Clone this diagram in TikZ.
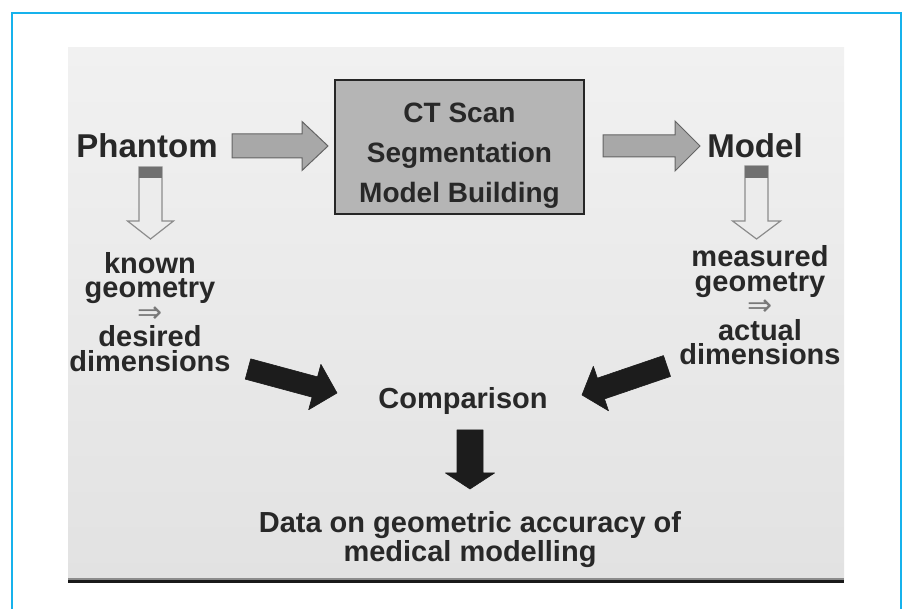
\documentclass[tikz,border=0pt]{standalone}
\usepackage{fontspec}
\setmainfont{Liberation Sans}
\newfontfamily\symfnt{DejaVu Sans}
\usetikzlibrary{calc}
\definecolor{frameblue}{RGB}{22,178,236}
\definecolor{paneltop}{RGB}{241,241,241}
\definecolor{panelbot}{RGB}{226,226,226}
\definecolor{boxfill}{RGB}{181,181,181}
\definecolor{txt}{RGB}{40,40,40}
\definecolor{grayarrow}{RGB}{168,168,168}
\definecolor{grayedge}{RGB}{100,100,100}
\definecolor{hollowfill}{RGB}{236,236,236}
\definecolor{hollowedge}{RGB}{140,140,140}
\definecolor{capfill}{RGB}{112,112,112}
\definecolor{blackarrow}{RGB}{28,28,28}
\definecolor{implarrow}{RGB}{120,120,120}
% block arrow: #1 style, #2 tail, #3 tip, #4 shaft half width, #5 head half width, #6 head length
\newcommand{\blockarrow}[6]{%
  \coordinate (hb) at ($(#3)!#6!(#2)$);
  \draw[#1] ($(#2)!#4!90:(#3)$) -- ($(hb)!#4!-90:(#2)$) -- ($(hb)!#5!-90:(#2)$)
    -- (#3) -- ($(hb)!#5!90:(#2)$) -- ($(hb)!#4!90:(#2)$) -- ($(#2)!#4!-90:(#3)$) -- cycle;}
\newcommand{\impl}{{\symfnt\mdseries\fontsize{30}{24.5}\selectfont\color{implarrow}⇒}}
\begin{document}
\begin{tikzpicture}[x=1pt,y=-1pt,
  lbl/.style={font=\bfseries\fontsize{29}{24.5}\selectfont, text=txt, align=center, inner sep=0pt},
  big/.style={font=\bfseries\fontsize{33}{33}\selectfont, text=txt, inner sep=0pt},
  procbox/.style={draw=black!85, line width=2.8pt, fill=boxfill, minimum width=249pt, minimum height=134pt, inner sep=0pt},
  boxtxt/.style={font=\bfseries\fontsize{28}{40}\selectfont, text=txt, align=center, inner sep=0pt},
  grayblk/.style={fill=grayarrow, draw=grayedge, line width=1pt, line join=miter},
  hollowblk/.style={fill=hollowfill, draw=hollowedge, line width=1.2pt},
  blackblk/.style={fill=blackarrow, draw=blackarrow, line width=0.6pt, line join=round}]
\useasboundingbox (0,0) rectangle (903,609);
\fill[white] (0,0) rectangle (903,609);
% outer frame
\draw[frameblue, line width=2.6pt] (12,609) -- (12,13) -- (901,13) -- (901,609);
% panel
\shade[top color=paneltop, bottom color=panelbot] (68,48) rectangle (844,580);
\fill[black!45] (68,577.5) rectangle (844,579.5);
\fill[black!90] (68,579.5) rectangle (844,582.5);
% nodes
\node[procbox] (box) at (459.5,147) {};
\node[boxtxt] (boxtext) at (459.5,156) {CT Scan\\Segmentation\\Model Building};
\node[big] (phantom) at (147,146) {Phantom};
\node[big] (model) at (755,146) {Model};
\node[lbl] (known) at (150,312) {known\\geometry\\\impl\\desired\\dimensions};
\node[lbl] (measured) at (760,305.5) {measured\\geometry\\\impl\\actual\\dimensions};
\node[lbl] (comp) at (463,401) {Comparison};
\node[lbl, font=\bfseries\fontsize{29}{29}\selectfont] (data) at (470,540) {Data on geometric accuracy of\\medical modelling};
% arrow end points
\coordinate (g1a) at (232,146); \coordinate (g1b) at (328,146);
\coordinate (g2a) at (603,146); \coordinate (g2b) at (700,146);
\coordinate (h1a) at (150.5,167); \coordinate (h1b) at (150.5,239);
\coordinate (h2a) at (756.5,166); \coordinate (h2b) at (756.5,239);
\coordinate (b1a) at (248,369); \coordinate (b1b) at (337,393);
\coordinate (b2a) at (667,366); \coordinate (b2b) at (582,395);
\coordinate (b3a) at (470,430); \coordinate (b3b) at (470,489);
% gray block arrows
\blockarrow{grayblk}{g1a}{g1b}{12pt}{24.5pt}{26pt}
\blockarrow{grayblk}{g2a}{g2b}{11pt}{25pt}{25pt}
% hollow down arrows with dark caps
\blockarrow{hollowblk}{h1a}{h1b}{11.5pt}{23pt}{18pt}
\fill[capfill] (139,167) rectangle (162,178);
\blockarrow{hollowblk}{h2a}{h2b}{11.5pt}{24pt}{18pt}
\fill[capfill] (745,166) rectangle (768,178);
% black arrows
\blockarrow{blackblk}{b1a}{b1b}{10.5pt}{23.5pt}{23pt}
\blockarrow{blackblk}{b2a}{b2b}{11pt}{23.5pt}{20pt}
\blockarrow{blackblk}{b3a}{b3b}{13pt}{24.5pt}{16pt}
\end{tikzpicture}
\end{document}
